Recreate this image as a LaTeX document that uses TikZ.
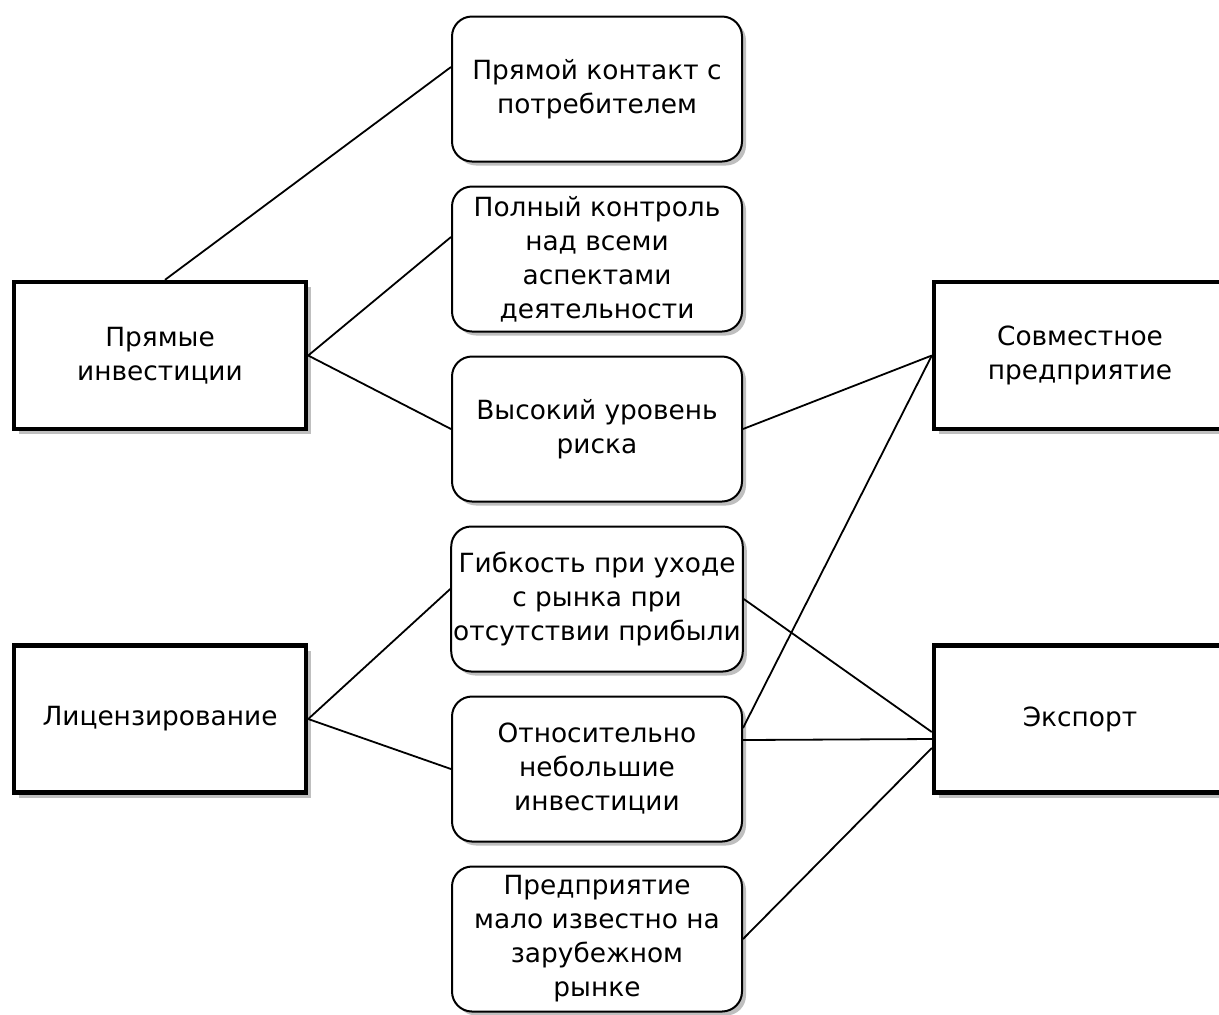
\documentclass[tikz,border=0pt]{standalone}
\usepackage{fontspec}
\setmainfont{DejaVu Sans}
\usetikzlibrary{positioning,shadows}

\begin{document}
\begin{tikzpicture}[x=0.5pt,y=-0.5pt,node distance=85pt]
        \useasboundingbox (0,0) rectangle (1219,1014);
        \tikzstyle{every node} = [font=\fontsize{13.2}{17}\selectfont,align=center,inner xsep=1pt]
        \tikzstyle{mode} = [draw,line width=2.2pt,fill=white,minimum width=146pt,minimum height=73.5pt,
          drop shadow={shadow xshift=2.5pt,shadow yshift=-2.5pt,fill=black!25,opacity=1}]
        \tikzstyle{factor} = [draw,line width=1pt,rounded corners=10pt,fill=white,minimum width=145pt,minimum height=72.5pt,
          drop shadow={shadow xshift=2pt,shadow yshift=-2pt,fill=black!25,opacity=1}]
        \tikzstyle{link} = [line width=0.9pt]
        \node[factor] (contact) at (597,89) {Прямой контакт с\\потребителем};
        \node[factor,below of=contact] (control) {Полный контроль\\над всеми\\аспектами\\деятельности};
        \node[factor,below of=control] (risk) {Высокий уровень\\риска};
        \node[factor,below of=risk] (flex) {Гибкость при уходе\\с рынка при\\отсутствии прибыли};
        \node[factor,below of=flex] (invest) {Относительно\\небольшие\\инвестиции};
        \node[factor,below of=invest] (unknown) {Предприятие\\мало известно на\\зарубежном\\рынке};
        \node[mode] (direct) at (160,355.5) {Прямые\\инвестиции};
        \node[mode] (license) at (160,719) {Лицензирование};
        \node[mode] (joint) at (1080,355.5) {Совместное\\предприятие};
        \node[mode] (export) at (1080,719) {Экспорт};
        \draw[link] ([xshift=2.5pt]direct.north) to ([yshift=11pt]contact.west);
        \draw[link] (direct.east) to ([yshift=11pt]control.west);
        \draw[link] (direct.east) to (risk.west);
        \draw[link] (license.east) to ([yshift=5pt]flex.west);
        \draw[link] (license.east) to (invest.west);
        \draw[link] (risk.east) to (joint.west);
        \draw[link] ([yshift=20.5pt]invest.east) to (joint.west);
        \draw[link] (flex.east) to ([yshift=-6.5pt]export.west);
        \draw[link] ([yshift=14.5pt]invest.east) to ([yshift=-10pt]export.west);
        \draw[link] (unknown.east) to ([yshift=-14.5pt]export.west);
\end{tikzpicture}
\end{document}
